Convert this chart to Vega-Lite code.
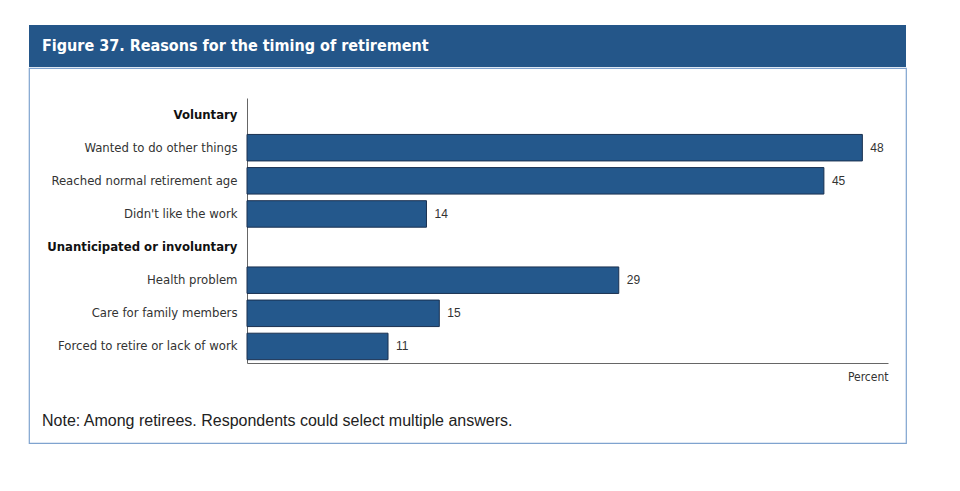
{
  "$schema": "https://vega.github.io/schema/vega-lite/v6.json",
  "padding": {"left": 28, "top": 25, "right": 0, "bottom": 0},
  "background": "white",
  "spacing": 0,
  "config": {"view": {"stroke": null}},
  "vconcat": [
    {
      "width": 877,
      "height": 42,
      "view": {"fill": "#245689", "stroke": null},
      "title": {
        "text": "Figure 37. Reasons for the timing of retirement",
        "orient": "top",
        "anchor": "start",
        "offset": -29,
        "dx": 13,
        "color": "white",
        "font": "DejaVu Sans Condensed, sans-serif",
        "fontSize": 16,
        "fontWeight": "bold"
      },
      "data": {"values": [{"a": 1}]},
      "mark": {"type": "text"},
      "encoding": {"text": {"value": ""}}
    },
    {
      "width": 877,
      "height": 375,
      "view": {"fill": "white", "stroke": "#7fa3cf", "strokeWidth": 1.2},
      "title": {
        "text": "Note: Among retirees. Respondents could select multiple answers.",
        "orient": "bottom",
        "anchor": "start",
        "offset": -30,
        "dx": 13,
        "baseline": "top",
        "color": "#222",
        "font": "Liberation Sans, Arial, sans-serif",
        "fontSize": 16,
        "fontWeight": "normal"
      },
      "data": {
        "values": [
          {"reason": "Wanted to do other things", "percent": 48},
          {"reason": "Reached normal retirement age", "percent": 45},
          {"reason": "Didn't like the work", "percent": 14},
          {"reason": "Health problem", "percent": 29},
          {"reason": "Care for family members", "percent": 15},
          {"reason": "Forced to retire or lack of work", "percent": 11}
        ]
      },
      "encoding": {
        "y": {
          "field": "reason",
          "type": "nominal",
          "sort": null,
          "scale": {
            "domain": ["Voluntary", "Wanted to do other things", "Reached normal retirement age", "Didn't like the work", "Unanticipated or involuntary", "Health problem", "Care for family members", "Forced to retire or lack of work"],
            "range": [30, 295],
            "paddingInner": 0.2,
            "paddingOuter": 0.1
          },
          "axis": {
            "title": null,
            "offset": -218,
            "ticks": false,
            "grid": false,
            "domainColor": "#666",
            "domainWidth": 1,
            "labelPadding": 10,
            "labelFont": "DejaVu Sans Condensed, sans-serif",
            "labelFontSize": 13,
            "labelLimit": 300,
            "labelColor": {"condition": {"test": "datum.value == 'Voluntary' || datum.value == 'Unanticipated or involuntary'", "value": "#111"}, "value": "#333"},
            "labelFontWeight": {"condition": {"test": "datum.value == 'Voluntary' || datum.value == 'Unanticipated or involuntary'", "value": "bold"}, "value": "normal"}
          }
        },
        "x": {
          "field": "percent",
          "type": "quantitative",
          "scale": {"domain": [0, 50], "range": [218, 859], "nice": false},
          "axis": {
            "title": "Percent",
            "offset": -80,
            "labels": false,
            "ticks": false,
            "grid": false,
            "domainColor": "#666",
            "titleAnchor": "end",
            "titleAlign": "right",
            "titlePadding": 8,
            "titleFont": "DejaVu Sans Condensed, sans-serif",
            "titleFontSize": 12,
            "titleFontWeight": "normal",
            "titleColor": "#333"
          }
        }
      },
      "layer": [
        {
          "mark": {"type": "bar", "fill": "#24588c", "stroke": "#1a3150", "strokeWidth": 1}
        },
        {
          "mark": {"type": "text", "align": "left", "dx": 8, "font": "Liberation Sans, Arial, sans-serif", "fontSize": 12, "color": "#333"},
          "encoding": {"text": {"field": "percent", "type": "quantitative"}}
        }
      ]
    }
  ]
}
